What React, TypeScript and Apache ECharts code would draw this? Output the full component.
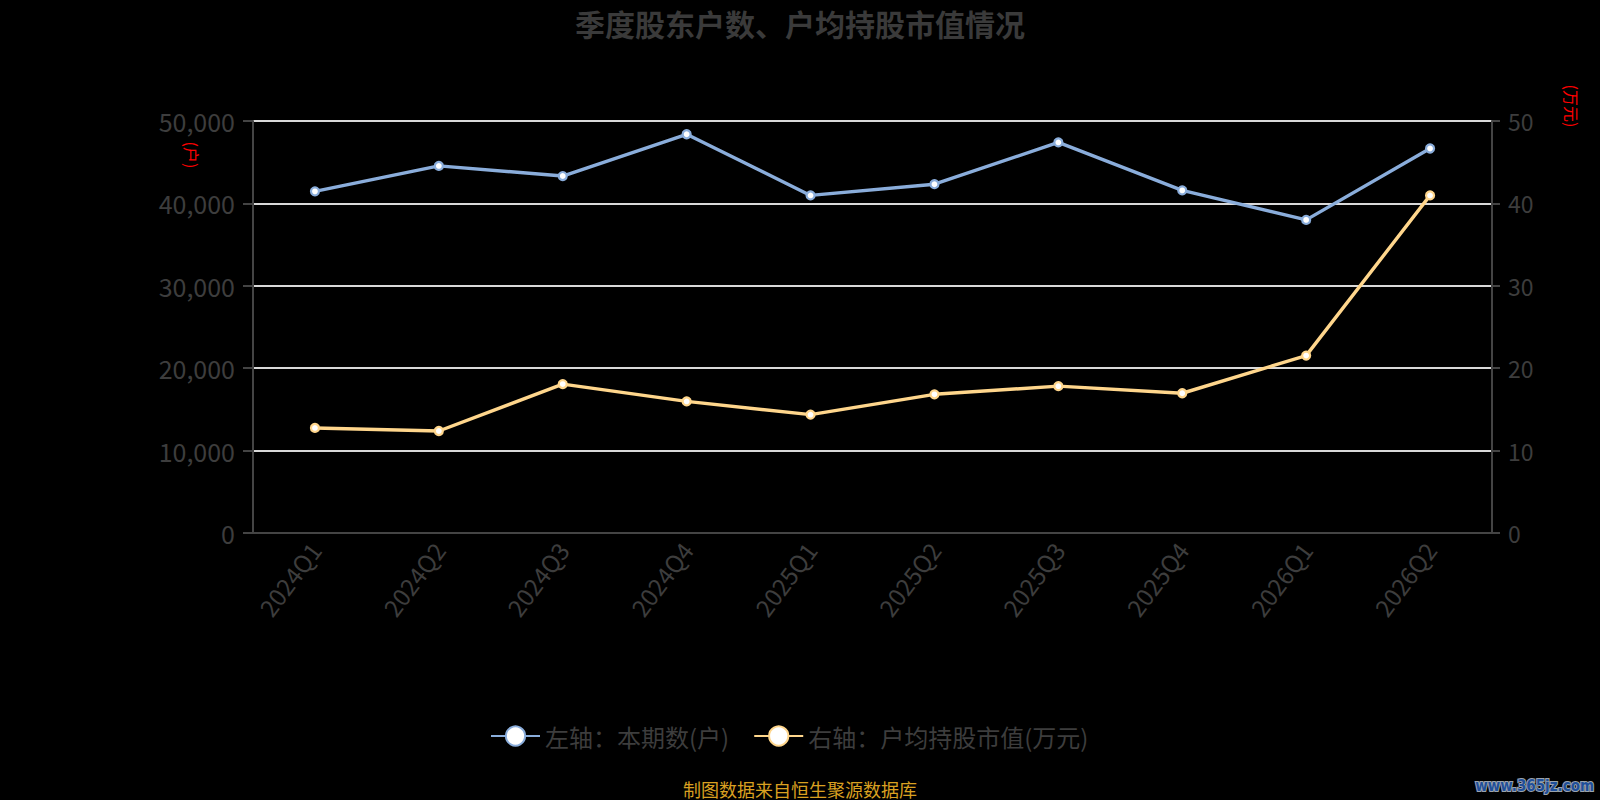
import React, { useEffect, useRef } from "react";
import * as echarts from "echarts";

const categories = ["2024Q1", "2024Q2", "2024Q3", "2024Q4", "2025Q1", "2025Q2", "2025Q3", "2025Q4", "2026Q1", "2026Q2"];
const holders = [41460, 44550, 43320, 48390, 40970, 42330, 47400, 41580, 38000, 46660];
const avgValue = [12.75, 12.38, 18.07, 15.97, 14.36, 16.83, 17.82, 16.96, 21.53, 40.97];
const leftTicks = { min: 0, max: 50000, interval: 10000 };
const rightTicks = { min: 0, max: 50, interval: 10 };

const LABEL = "#3d3d3d";
const FONT = "'Noto Sans CJK SC', 'Noto Sans', sans-serif";

export default function App() {
  const ref = useRef<HTMLDivElement>(null);
  useEffect(() => {
    document.body.style.margin = "0";
    document.body.style.background = "#000";
    const chart = echarts.init(ref.current!, null, { renderer: "svg" });
    chart.setOption({
      animation: false,
      backgroundColor: "#000",
      textStyle: { fontFamily: FONT },
      title: {
        text: "季度股东户数、户均持股市值情况",
        left: "center",
        top: 3,
        textStyle: { color: "#3a3a3a", fontSize: 30, fontWeight: "bold", fontFamily: FONT },
      },
      grid: { left: 253, right: 108, top: 121, bottom: 267 },
      legend: {
        left: 490,
        top: 724,
        itemWidth: 49,
        itemHeight: 24,
        itemGap: 24,
        textStyle: { color: LABEL, fontSize: 24, fontFamily: FONT },
        data: ["左轴：本期数(户)", "右轴：户均持股市值(万元)"],
        padding: [0, 0, 0, 0],
      },
      xAxis: {
        type: "category",
        data: categories,
        boundaryGap: true,
        axisLine: { lineStyle: { color: "#444", width: 2 } },
        axisTick: { lineStyle: { color: "#444", width: 2 }, length: 9 },
        axisLabel: { color: LABEL, fontSize: 24, rotate: 53, margin: 12, fontFamily: FONT },
      },
      yAxis: [
        {
          type: "value",
          ...leftTicks,
          axisLine: { show: true, lineStyle: { color: "#444", width: 2 } },
          axisTick: { show: true, lineStyle: { color: "#444", width: 2 }, length: 10 },
          axisLabel: {
            color: LABEL,
            fontSize: 25,
            margin: 18,
            fontFamily: FONT,
            formatter: (v: number) => v.toLocaleString("en-US"),
          },
          splitLine: { show: true, lineStyle: { color: "#d9d9d9", width: 2 } },
        },
        {
          type: "value",
          ...rightTicks,
          position: "right",
          axisLine: { show: true, lineStyle: { color: "#444", width: 2 } },
          axisTick: { show: true, lineStyle: { color: "#444", width: 2 }, length: 8 },
          axisLabel: { color: LABEL, fontSize: 23, margin: 16, fontFamily: FONT },
          splitLine: { show: false },
        },
      ],
      series: [
        {
          name: "左轴：本期数(户)",
          type: "line",
          yAxisIndex: 0,
          data: holders,
          symbol: "circle",
          symbolSize: 8,
          lineStyle: { color: "#8aaddb", width: 3.4 },
          itemStyle: { color: "#fff", borderColor: "#8aaddb", borderWidth: 2.2 },
        },
        {
          name: "右轴：户均持股市值(万元)",
          type: "line",
          yAxisIndex: 1,
          data: avgValue,
          symbol: "circle",
          symbolSize: 8,
          lineStyle: { color: "#ffd68c", width: 3.4 },
          itemStyle: { color: "#fff", borderColor: "#ffd68c", borderWidth: 2.2 },
        },
      ],
      graphic: [
        {
          type: "text",
          x: 191.5,
          y: 155,
          rotation: -Math.PI / 2,
          style: { text: "(户)", fill: "#ff0000", fontSize: 16, fontFamily: FONT, align: "center", verticalAlign: "middle" },
        },
        {
          type: "text",
          x: 1571.5,
          y: 106,
          rotation: -Math.PI / 2,
          style: { text: "(万元)", fill: "#ff0000", fontSize: 16, fontFamily: FONT, align: "center", verticalAlign: "middle" },
        },
        {
          type: "text",
          x: 800,
          y: 788.5,
          style: {
            text: "制图数据来自恒生聚源数据库",
            fill: "#d9a021",
            fontSize: 18,
            fontFamily: FONT,
            align: "center",
            verticalAlign: "middle",
          },
        },
        {
          type: "text",
          x: 1594,
          y: 785.5,
          style: {
            text: "www.365jz.com",
            fill: "#1f4f9a",
            stroke: "#9aa3ad",
            lineWidth: 2,
            fontSize: 15,
            fontWeight: "bold",
            fontFamily: "'DejaVu Sans Condensed', 'DejaVu Sans', sans-serif",
            align: "right",
            verticalAlign: "middle",
          },
        },
      ],
    });
    return () => chart.dispose();
  }, []);
  return <div ref={ref} style={{ width: 1600, height: 800 }} />;
}
